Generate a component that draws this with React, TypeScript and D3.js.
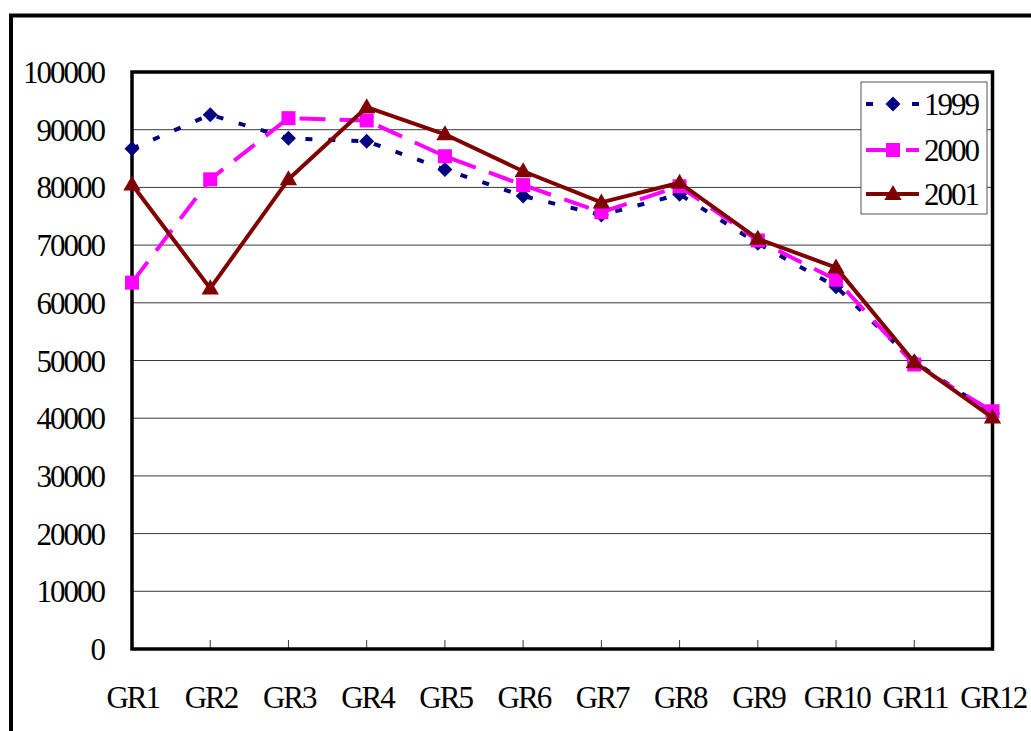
import React from "react";
import * as d3 from "d3";

const categories = ["GR1", "GR2", "GR3", "GR4", "GR5", "GR6", "GR7", "GR8", "GR9", "GR10", "GR11", "GR12"];
const values1999 = [86700, 92600, 88500, 88000, 83100, 78500, 75200, 78800, 70300, 62800, 49800, 40800];
const values2000 = [63500, 81400, 92000, 91600, 85400, 80400, 75700, 80200, 70800, 64000, 49300, 41200];
const values2001 = [80500, 62500, 81400, 93900, 89200, 82800, 77400, 80800, 71100, 66100, 49700, 40100];
const yTicks = [0, 10000, 20000, 30000, 40000, 50000, 60000, 70000, 80000, 90000, 100000];

const series = [
  { name: "1999", values: values1999, color: "#000080", dash: "7 16", marker: "diamond" },
  { name: "2000", values: values2000, color: "#FF00FF", dash: "26 14", marker: "square" },
  { name: "2001", values: values2001, color: "#800000", dash: null, marker: "triangle" },
];

const W = 1031;
const H = 731;
const plot = { left: 132, right: 992.5, top: 72, bottom: 649 };
const textStyle: React.CSSProperties = {
  fontFamily: '"Liberation Serif", "Times New Roman", Times, "DejaVu Serif", serif',
  fontSize: "31px",
  letterSpacing: "-2px",
};

function Marker({ kind, x, y, color }: { kind: string; x: number; y: number; color: string }) {
  if (kind === "diamond") {
    const s = 7.5;
    return <path d={`M${x},${y - s}L${x + s},${y}L${x},${y + s}L${x - s},${y}Z`} fill={color} />;
  }
  if (kind === "square") {
    const s = 7;
    return <rect x={x - s} y={y - s} width={2 * s} height={2 * s} fill={color} />;
  }
  const sym = d3.symbol(d3.symbolTriangle, 130)();
  return <path d={sym || ""} transform={`translate(${x},${y + 1})`} fill={color} />;
}

export default function App() {
  const x = d3.scalePoint<string>().domain(categories).range([plot.left, plot.right]);
  const y = d3.scaleLinear().domain([0, 100000]).range([plot.bottom, plot.top]);
  const line = d3
    .line<number>()
    .x((_, i) => x(categories[i]) as number)
    .y((d) => y(d));

  const legend = { x: 861, y: 82, w: 126, h: 132 };
  const rowY = [104, 150, 194];

  return (
    <svg width={W} height={H} style={{ position: "absolute", left: 0, top: 0, background: "#fff" }}>
      {/* chart frame */}
      <rect x={11} y={15.5} width={1100} height={800} fill="#fff" stroke="#000" strokeWidth={4} />

      {/* horizontal gridlines */}
      {yTicks.slice(1, -1).map((t) => (
        <line key={t} x1={plot.left} x2={plot.right} y1={y(t)} y2={y(t)} stroke="#3a3a3a" strokeWidth={1} />
      ))}

      {/* category tick marks */}
      {categories.slice(1, -1).map((c) => (
        <line key={c} x1={x(c)} x2={x(c)} y1={plot.bottom} y2={plot.bottom - 9} stroke="#3a3a3a" strokeWidth={1} />
      ))}

      {/* plot area border */}
      <rect
        x={plot.left}
        y={plot.top}
        width={plot.right - plot.left}
        height={plot.bottom - plot.top}
        fill="none"
        stroke="#000"
        strokeWidth={3.5}
      />

      {/* y axis labels */}
      {yTicks.map((t) => (
        <text key={t} x={104} y={y(t) + 11} textAnchor="end" style={textStyle} fill="#000">
          {t}
        </text>
      ))}

      {/* x axis labels */}
      {categories.map((c) => (
        <text key={c} x={(x(c) as number) + 0.75} y={708} textAnchor="middle" style={textStyle} fill="#000">
          {c}
        </text>
      ))}

      {/* series */}
      {series.map((s) => (
        <g key={s.name}>
          <path
            d={line(s.values) || ""}
            fill="none"
            stroke={s.color}
            strokeWidth={4}
            strokeDasharray={s.dash || undefined}
            strokeLinejoin="round"
          />
          {s.values.map((v, i) => (
            <Marker key={i} kind={s.marker} x={x(categories[i]) as number} y={y(v)} color={s.color} />
          ))}
        </g>
      ))}

      {/* legend */}
      <rect x={legend.x} y={legend.y} width={legend.w} height={legend.h} fill="#fff" stroke="#555" strokeWidth={1} />
      {series.map((s, i) => (
        <g key={s.name}>
          <line
            x1={866}
            x2={919}
            y1={rowY[i]}
            y2={rowY[i]}
            stroke={s.color}
            strokeWidth={4}
            strokeDasharray={s.dash || undefined}
          />
          <Marker kind={s.marker} x={893} y={rowY[i]} color={s.color} />
          <text x={924} y={rowY[i] + 11} style={textStyle} fill="#000">
            {s.name}
          </text>
        </g>
      ))}
    </svg>
  );
}
